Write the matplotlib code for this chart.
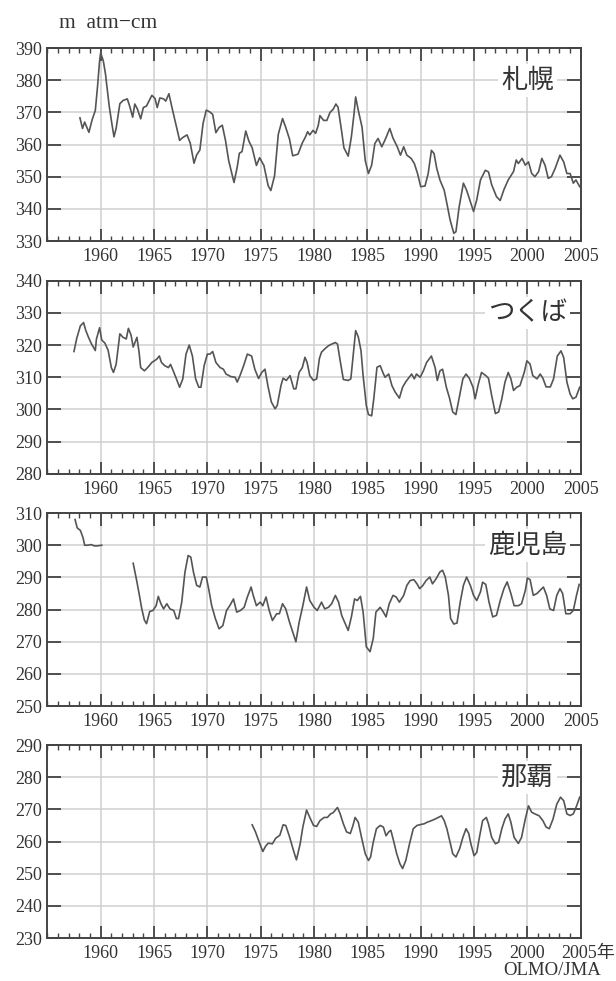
"""
ozone_totals.py — total ozone time series at four JMA stations.

Plots smoothed total ozone (m atm-cm) for Sapporo, Tsukuba, Kagoshima and Naha
from the late 1950s to 2005, one panel per station, stacked vertically.
"""

import matplotlib
matplotlib.use('Agg')
import matplotlib.pyplot as plt
from matplotlib.ticker import MultipleLocator
import numpy as np

# ── Data ─────────────────────────────────────────────────────────────────────
sapporo_years = [
    1958.06, 1958.3, 1958.5, 1958.9, 1959.2, 1959.5, 1959.7, 1959.9, 1960.0, 1960.25,
    1960.45, 1960.8, 1961.05, 1961.25, 1961.45, 1961.8, 1962.1, 1962.5, 1962.75, 1963.0,
    1963.2, 1963.45, 1963.75, 1964.0, 1964.3, 1964.8, 1965.1, 1965.3, 1965.55, 1965.9,
    1966.1, 1966.4, 1966.65, 1967.0, 1967.4, 1967.7, 1968.1, 1968.4, 1968.75, 1969.0,
    1969.3, 1969.6, 1969.9, 1970.2, 1970.5, 1970.8, 1971.1, 1971.4, 1971.7, 1972.0,
    1972.5, 1972.8, 1973.0, 1973.25, 1973.6, 1973.9, 1974.2, 1974.6, 1974.9, 1975.3,
    1975.7, 1975.95, 1976.3, 1976.65, 1977.05, 1977.35, 1977.7, 1978.0, 1978.5, 1978.9,
    1979.2, 1979.4, 1979.6, 1979.9, 1980.15, 1980.4, 1980.55, 1980.9, 1981.2, 1981.5,
    1981.8, 1982.05, 1982.25, 1982.6, 1982.8, 1983.2, 1983.5, 1983.75, 1983.9, 1984.15,
    1984.5, 1984.8, 1985.1, 1985.4, 1985.7, 1986.0, 1986.35, 1986.65, 1987.1, 1987.4,
    1987.8, 1988.1, 1988.4, 1988.7, 1989.1, 1989.4, 1989.7, 1990.0, 1990.4, 1990.7,
    1991.0, 1991.25, 1991.5, 1991.8, 1992.2, 1992.45, 1992.75, 1993.1, 1993.3, 1993.6,
    1994.0, 1994.3, 1994.7, 1994.95, 1995.25, 1995.6, 1996.05, 1996.35, 1996.65, 1997.1,
    1997.45, 1997.8, 1998.2, 1998.7, 1998.95, 1999.15, 1999.5, 1999.8, 2000.1, 2000.4,
    2000.7, 2001.05, 2001.35, 2001.65, 2001.95, 2002.25, 2002.6, 2003.05, 2003.4, 2003.7,
    2004.0, 2004.3, 2004.55, 2004.9,
]
sapporo_ozone = [
    368.3, 365.0, 367.0, 363.8, 367.7, 370.6, 377.8, 386.0, 388.5, 386.0,
    382.0, 372.0, 366.5, 362.4, 365.0, 372.7, 373.7, 374.2, 371.6, 368.5,
    372.6, 371.0, 368.0, 371.5, 372.0, 375.3, 374.3, 371.5, 374.5, 374.2,
    373.5, 375.8, 372.0, 367.0, 361.3, 362.2, 363.0, 360.4, 354.2, 356.8,
    358.3, 366.6, 370.7, 370.2, 369.4, 363.7, 365.3, 366.0, 361.3, 355.0,
    348.2, 353.0, 357.3, 357.8, 364.2, 361.0, 359.0, 353.5, 355.9, 353.5,
    347.2, 345.7, 350.3, 363.2, 368.1, 365.3, 361.7, 356.5, 357.0, 360.5,
    362.4, 364.0, 363.0, 364.4, 363.5, 366.0, 369.0, 367.5, 367.5, 370.0,
    371.0, 372.6, 371.6, 363.8, 359.0, 356.4, 362.4, 369.6, 374.8, 370.6,
    365.4, 355.0, 351.0, 353.6, 360.3, 361.9, 359.3, 361.4, 365.0, 362.0,
    359.3, 356.7, 359.3, 356.7, 355.7, 354.1, 351.0, 346.9, 347.1, 351.0,
    358.2, 357.2, 352.6, 349.0, 345.8, 341.7, 336.6, 332.4, 332.9, 340.6,
    348.0, 345.8, 341.7, 339.2, 342.8, 349.0, 352.0, 351.5, 347.5, 343.8,
    342.6, 346.0, 349.0, 351.6, 355.2, 354.1, 355.7, 353.6, 354.6, 351.0,
    350.0, 351.6, 355.7, 353.6, 349.5, 350.0, 352.6, 356.7, 354.6, 351.0,
    351.0, 348.0, 349.0, 346.9,
]

tsukuba_years = [
    1957.5, 1957.75, 1958.1, 1958.4, 1958.6, 1958.85, 1959.15, 1959.5, 1959.6, 1959.9,
    1960.1, 1960.4, 1960.7, 1961.0, 1961.2, 1961.45, 1961.8, 1962.1, 1962.4, 1962.6,
    1962.85, 1963.05, 1963.4, 1963.6, 1963.75, 1964.1, 1964.4, 1964.8, 1965.25, 1965.5,
    1965.7, 1966.0, 1966.35, 1966.55, 1966.8, 1967.1, 1967.4, 1967.7, 1968.0, 1968.3,
    1968.6, 1968.9, 1969.2, 1969.4, 1969.7, 1970.0, 1970.25, 1970.5, 1970.8, 1971.2,
    1971.5, 1971.75, 1972.2, 1972.6, 1972.8, 1973.06, 1973.4, 1973.75, 1974.15, 1974.45,
    1974.8, 1975.1, 1975.4, 1975.7, 1976.0, 1976.35, 1976.55, 1976.9, 1977.1, 1977.4,
    1977.75, 1978.1, 1978.3, 1978.6, 1978.9, 1979.15, 1979.35, 1979.6, 1979.95, 1980.25,
    1980.5, 1980.7, 1981.0, 1981.35, 1981.65, 1982.0, 1982.2, 1982.45, 1982.75, 1983.2,
    1983.45, 1983.7, 1983.9, 1984.15, 1984.4, 1984.6, 1984.9, 1985.1, 1985.4, 1985.6,
    1985.9, 1986.2, 1986.45, 1986.65, 1987.0, 1987.3, 1987.6, 1988.0, 1988.3, 1988.6,
    1988.85, 1989.15, 1989.4, 1989.6, 1989.95, 1990.25, 1990.55, 1991.0, 1991.35, 1991.55,
    1991.8, 1992.05, 1992.4, 1992.7, 1993.0, 1993.3, 1993.65, 1993.95, 1994.25, 1994.55,
    1994.9, 1995.1, 1995.4, 1995.7, 1996.1, 1996.35, 1996.65, 1997.0, 1997.3, 1997.6,
    1997.9, 1998.2, 1998.45, 1998.7, 1999.0, 1999.3, 1999.7, 1999.95, 2000.25, 2000.5,
    2000.9, 2001.2, 2001.45, 2001.75, 2002.15, 2002.45, 2002.8, 2003.15, 2003.4, 2003.7,
    2004.0, 2004.25, 2004.55, 2004.9,
]
tsukuba_ozone = [
    318.0, 322.0, 326.0, 327.0, 324.6, 322.5, 320.3, 318.3, 321.8, 325.4,
    321.6, 320.6, 318.4, 313.0, 311.5, 314.0, 323.5, 322.4, 321.9, 325.2,
    323.1, 319.4, 322.4, 317.8, 313.0, 312.0, 313.0, 314.6, 315.6, 316.6,
    314.6, 313.6, 313.0, 314.0, 312.0, 309.5, 306.9, 309.5, 317.2, 320.0,
    316.6, 309.5, 306.9, 306.9, 313.6, 317.2, 317.2, 318.0, 314.6, 313.0,
    312.5, 311.0, 310.2, 310.0, 308.5, 310.5, 313.6, 317.2, 316.6, 312.5,
    309.6, 311.5, 312.5, 306.9, 302.3, 300.2, 301.2, 307.4, 309.7, 309.0,
    310.5, 306.4, 306.4, 311.5, 313.0, 316.2, 314.6, 310.5, 309.0, 309.5,
    315.8, 317.8, 318.8, 319.8, 320.3, 320.8, 320.3, 315.1, 309.3, 309.0,
    309.5, 317.8, 324.5, 322.5, 318.3, 310.5, 301.2, 298.4, 298.0, 303.3,
    313.1, 313.6, 311.5, 310.0, 311.0, 307.4, 305.4, 303.5, 306.9, 308.6,
    309.7, 311.0, 309.5, 311.0, 310.0, 312.0, 314.6, 316.6, 313.0, 309.0,
    312.0, 312.5, 306.9, 303.5, 299.2, 298.4, 304.3, 309.5, 311.0, 309.7,
    306.9, 303.3, 307.9, 311.5, 310.5, 309.7, 304.3, 298.7, 299.2, 303.3,
    308.5, 311.5, 309.5, 305.9, 306.9, 307.4, 311.5, 315.1, 314.1, 310.5,
    309.5, 311.0, 309.7, 307.0, 307.0, 309.5, 316.6, 318.2, 316.1, 308.5,
    304.8, 303.3, 303.8, 306.9,
]

# Kagoshima has a gap 1960-1963 (NaN breaks the line)
kagoshima_years = [
    1957.6, 1957.8, 1958.1, 1958.35, 1958.5, 1958.8, 1959.1, 1959.4, 1959.7, 1960.1,
    1961.5,
    1963.05, 1963.4, 1963.6, 1963.85, 1964.1, 1964.3, 1964.6, 1964.9, 1965.2, 1965.4,
    1965.65, 1965.9, 1966.2, 1966.5, 1966.85, 1967.1, 1967.3, 1967.6, 1967.9, 1968.2,
    1968.45, 1968.7, 1969.0, 1969.3, 1969.55, 1969.9, 1970.15, 1970.4, 1970.75, 1971.1,
    1971.45, 1971.8, 1972.1, 1972.45, 1972.75, 1973.1, 1973.45, 1973.75, 1974.1, 1974.3,
    1974.6, 1974.95, 1975.2, 1975.5, 1975.8, 1976.1, 1976.5, 1976.75, 1977.05, 1977.35,
    1977.7, 1978.0, 1978.3, 1978.6, 1978.95, 1979.3, 1979.6, 1980.0, 1980.3, 1980.7,
    1981.0, 1981.35, 1981.65, 1982.0, 1982.3, 1982.6, 1983.2, 1983.5, 1983.8, 1984.05,
    1984.35, 1984.6, 1984.9, 1985.25, 1985.55, 1985.8, 1986.2, 1986.5, 1986.75, 1987.05,
    1987.4, 1987.7, 1988.0, 1988.4, 1988.7, 1989.0, 1989.35, 1989.65, 1989.9, 1990.2,
    1990.5, 1990.85, 1991.1, 1991.45, 1991.8, 1992.05, 1992.3, 1992.6, 1992.8, 1993.1,
    1993.4, 1993.7, 1994.0, 1994.3, 1994.65, 1994.95, 1995.25, 1995.6, 1995.8, 1996.1,
    1996.4, 1996.75, 1997.1, 1997.45, 1997.8, 1998.1, 1998.45, 1998.75, 1999.15, 1999.45,
    1999.8, 2000.0, 2000.25, 2000.55, 2000.9, 2001.2, 2001.5, 2001.8, 2002.1, 2002.45,
    2002.75, 2003.05, 2003.3, 2003.6, 2004.0, 2004.3, 2004.6, 2004.85,
]
kagoshima_ozone = [
    308.0, 305.4, 304.6, 302.3, 300.0, 300.0, 300.2, 299.8, 299.8, 300.0,
    np.nan,
    294.4, 288.6, 285.0, 280.3, 276.7, 275.6, 279.4, 279.7, 281.2, 284.1,
    281.8, 280.2, 281.8, 280.2, 279.7, 277.2, 277.2, 282.3, 291.6, 296.8,
    296.3, 291.6, 287.5, 287.0, 290.1, 290.1, 286.0, 281.3, 277.2, 274.0,
    275.0, 279.7, 281.2, 283.3, 279.2, 279.7, 280.7, 283.9, 287.0, 284.4,
    281.2, 282.3, 281.2, 283.9, 279.7, 276.6, 278.7, 278.7, 281.8, 280.2,
    276.1, 273.0, 270.0, 276.0, 281.2, 287.0, 282.8, 280.7, 279.7, 282.3,
    280.2, 280.7, 281.8, 284.4, 282.3, 278.1, 273.5, 277.7, 283.3, 282.8,
    284.1, 279.2, 268.4, 266.9, 271.0, 279.2, 280.7, 279.2, 277.7, 281.8,
    284.4, 283.9, 282.3, 284.4, 287.5, 289.0, 289.3, 288.0, 286.5, 287.5,
    289.0, 290.1, 288.0, 289.6, 291.7, 292.2, 290.1, 284.4, 277.2, 275.5,
    275.8, 282.3, 287.5, 290.1, 287.5, 284.4, 282.8, 285.5, 288.5, 287.8,
    282.3, 277.7, 278.2, 282.8, 286.5, 288.6, 285.0, 281.2, 281.2, 281.8,
    285.9, 289.8, 289.3, 284.4, 285.0, 286.0, 287.0, 284.4, 280.2, 279.7,
    284.4, 286.5, 285.0, 278.7, 278.7, 279.7, 284.4, 287.8,
]

naha_years = [
    1974.2, 1974.5, 1974.9, 1975.2, 1975.45, 1975.7, 1976.1, 1976.4, 1976.8, 1977.1,
    1977.35, 1977.7, 1978.1, 1978.35, 1978.7, 1978.95, 1979.3, 1979.6, 1979.95, 1980.25,
    1980.55, 1980.95, 1981.25, 1981.55, 1981.8, 1982.2, 1982.45, 1982.75, 1983.05, 1983.4,
    1983.65, 1983.85, 1984.15, 1984.45, 1984.8, 1985.1, 1985.3, 1985.55, 1985.85, 1986.2,
    1986.5, 1986.75, 1987.0, 1987.2, 1987.45, 1987.75, 1988.05, 1988.3, 1988.6, 1988.95,
    1989.3, 1989.65, 1990.0, 1990.3, 1990.6, 1991.0, 1991.35, 1991.65, 1991.95, 1992.2,
    1992.45, 1992.75, 1993.0, 1993.3, 1993.65, 1993.95, 1994.25, 1994.5, 1994.7, 1995.0,
    1995.25, 1995.5, 1995.8, 1996.15, 1996.35, 1996.65, 1997.0, 1997.3, 1997.6, 1997.9,
    1998.2, 1998.45, 1998.75, 1999.15, 1999.45, 1999.8, 2000.1, 2000.4, 2000.7, 2001.1,
    2001.45, 2001.75, 2002.05, 2002.4, 2002.75, 2003.1, 2003.4, 2003.7, 2004.0, 2004.3,
    2004.6, 2004.9,
]
naha_ozone = [
    265.2, 263.1, 259.5, 256.9, 258.5, 259.5, 259.3, 261.0, 262.0, 265.2,
    265.0, 261.5, 256.9, 254.3, 259.3, 264.5, 269.8, 267.5, 265.0, 264.7,
    266.5, 267.5, 267.5, 268.6, 269.0, 270.6, 268.6, 265.5, 263.0, 262.5,
    265.0, 267.5, 266.0, 261.3, 256.2, 254.1, 255.2, 259.8, 264.0, 265.0,
    264.5, 261.8, 263.0, 263.5, 260.3, 256.2, 253.1, 251.6, 254.1, 259.3,
    264.0, 265.0, 265.3, 265.5, 266.0, 266.5, 267.0, 267.5, 268.0, 266.5,
    264.0, 259.8, 256.2, 255.2, 257.8, 261.3, 264.0, 262.5, 259.3, 255.6,
    256.6, 261.3, 266.5, 267.5, 265.5, 261.3, 259.3, 259.8, 264.0, 267.0,
    268.6, 266.0, 261.3, 259.4, 261.3, 267.0, 271.1, 269.1, 268.6, 268.0,
    266.5, 264.5, 264.0, 267.0, 271.6, 273.8, 272.7, 268.6, 268.1, 268.6,
    271.0, 273.8,
]

station_names = ['札幌', 'つくば', '鹿児島', '那覇']
y_ranges = [(330, 390), (280, 340), (250, 310), (230, 290)]
year_ticks = [1960, 1965, 1970, 1975, 1980, 1985, 1990, 1995, 2000, 2005]


def style_panel(ax, ylim, name, last=False):
    ax.set_xlim(1955, 2005)
    ax.set_ylim(*ylim)
    ax.set_xticks(year_ticks)
    ax.xaxis.set_minor_locator(MultipleLocator(1))
    ax.yaxis.set_major_locator(MultipleLocator(10))

    ax.grid(True, which='major', color='#cfcfcf', linewidth=1.1)
    ax.set_axisbelow(True)

    ax.tick_params(axis='x', which='major', direction='in', top=True, length=9,
                   width=1.3, color='#444444', pad=5, labelsize=13)
    ax.tick_params(axis='x', which='minor', direction='in', top=True, length=3.5,
                   width=1.0, color='#444444')
    ax.tick_params(axis='y', which='major', direction='in', right=True, length=10,
                   width=1.3, color='#444444', pad=4, labelsize=13)
    for sp in ax.spines.values():
        sp.set_color('#444444')
        sp.set_linewidth(1.4)

    if last:
        # last panel carries the "年" unit after 2005
        labels = [str(y) for y in year_ticks[:-1]] + ['']
        ax.set_xticklabels(labels)
        ax.annotate('2005年', xy=(2005, 0), xycoords=('data', 'axes fraction'),
                    xytext=(-14, -5), textcoords='offset points',
                    ha='left', va='top', fontsize=13, color='#333333')

    ax.text(2000, ylim[0] + 50, name, ha='center', va='center', fontsize=19,
            family=['Noto Sans CJK JP', 'DejaVu Sans'], color='#333333', zorder=3,
            bbox=dict(facecolor='white', edgecolor='none', pad=2))


def main() -> None:
    plt.rcParams['font.family'] = ['Liberation Serif', 'Noto Sans CJK JP']
    plt.rcParams['text.color'] = '#333333'
    plt.rcParams['xtick.labelcolor'] = '#333333'
    plt.rcParams['ytick.labelcolor'] = '#333333'

    fig = plt.figure(figsize=(6.16, 9.81), dpi=100)

    series = [
        (sapporo_years, sapporo_ozone),
        (tsukuba_years, tsukuba_ozone),
        (kagoshima_years, kagoshima_ozone),
        (naha_years, naha_ozone),
    ]
    bottoms = [0.7543, 0.5171, 0.2803, 0.0438]

    # ── One panel per station ─────────────────────────────────────────────────
    for i, ((yrs, vals), name, yr, bottom) in enumerate(
            zip(series, station_names, y_ranges, bottoms)):
        ax = fig.add_axes([0.0768, bottom, 0.866, 0.1967])
        ax.plot(yrs, vals, color='#555555', linewidth=1.2, zorder=2)
        style_panel(ax, yr, name, last=(i == 3))

    # ── Unit and source labels ────────────────────────────────────────────────
    fig.text(0.096, 0.9715, 'm  atm\u2212cm', fontsize=15.5, va='baseline', ha='left')
    fig.text(0.976, 0.011, 'OLMO/JMA', fontsize=13.5, va='center', ha='right')

    fig.savefig('out.png', dpi=100)
    plt.close(fig)


if __name__ == "__main__":
    main()
